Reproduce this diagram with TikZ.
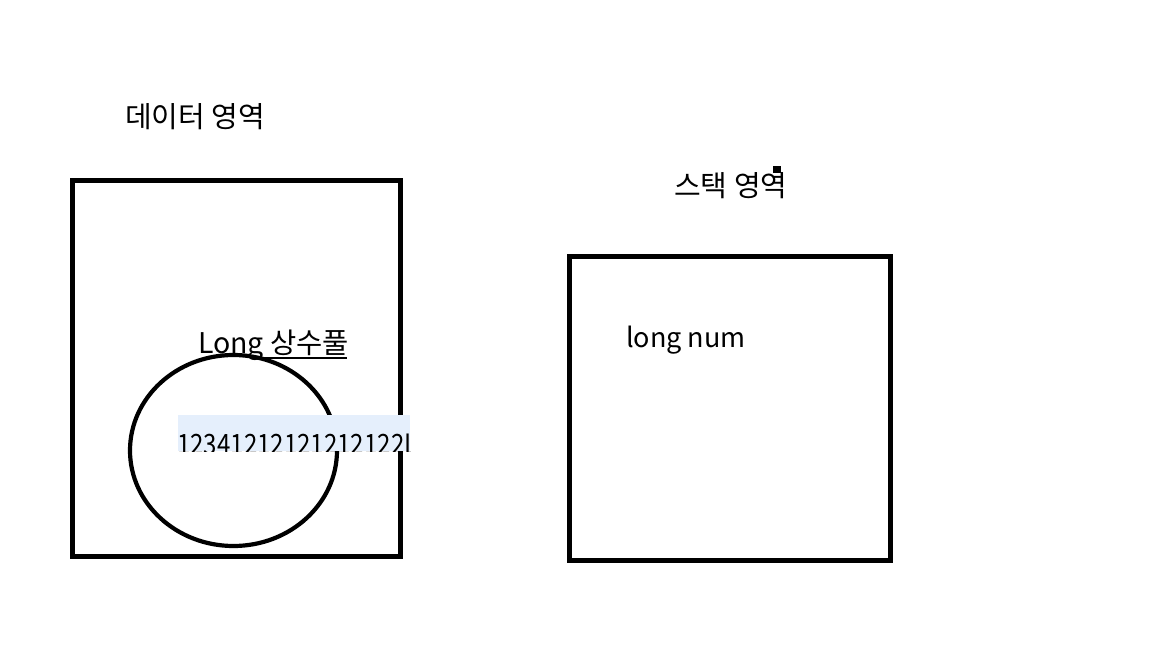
\documentclass[tikz,border=0pt]{standalone}
\usepackage{fontspec}
\usetikzlibrary{shapes.geometric}
\setmainfont{Noto Sans CJK KR}
\newfontfamily\kr{Noto Sans CJK KR}
\definecolor{hlblue}{RGB}{229,239,252}
\tikzset{
  frame/.style={draw=black, line width=5pt},
  txtlabel/.style={inner sep=0pt, font=\kr\fontsize{29}{34}\selectfont, anchor=base west},
}
\begin{document}
\begin{tikzpicture}[x=1pt,y=-1pt]
\useasboundingbox[fill=white] (0,0) rectangle (1152,648);
% data area
\node[txtlabel] (datalabel) at (125,127) {데이터 영역};
\draw[frame] (72,180) rectangle (400,556);
\node[frame, line width=4.2pt, ellipse, minimum width=207pt, minimum height=191pt, inner sep=0pt] (pool) at (233.5,450.5) {};
\node[txtlabel, font=\kr\fontsize{28.5}{34}\selectfont] (poollabel) at (198,353) {Long 상수풀};
\coordinate (ulA) at (257,358);
\coordinate (ulB) at (347,358);
\draw[line width=2pt] (ulA) -- (ulB);
% highlighted literal
\begin{scope}
  \clip (178,415) rectangle (410,451);
  \fill[hlblue] (178,415) rectangle (410,451);
  \node[inner sep=0pt, anchor=base west, font=\kr\fontsize{28}{32}\selectfont] (literal) at (177,454) {\scalebox{0.86}[1]{12341212121212122L}};
\end{scope}
% stack area
\node[txtlabel] (stacklabel) at (674,196) {스택 영역};
\fill[black] (773,166) rectangle (781,173);
\draw[frame] (569,256) rectangle (890,560);
\node[txtlabel, font=\kr\fontsize{27}{32}\selectfont] (numlabel) at (626,347) {long num};
\end{tikzpicture}
\end{document}
